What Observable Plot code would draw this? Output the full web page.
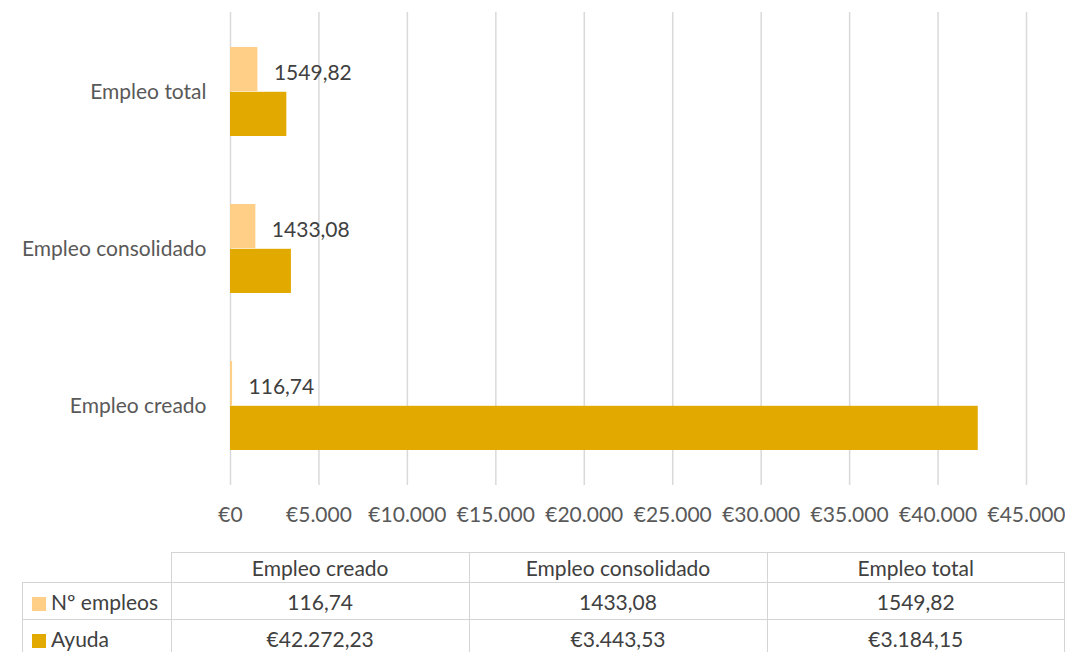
<!DOCTYPE html>
<html><head><meta charset="utf-8">
<script src="https://cdn.jsdelivr.net/npm/d3@7"></script>
<script src="https://cdn.jsdelivr.net/npm/@observablehq/plot@0.6"></script>
<style>
body{margin:0;background:#fff;font-family:Lato,"Noto Sans",sans-serif;}
#chart svg{display:block;}
table{border-collapse:collapse;margin-top:7px;margin-left:22px;font-size:21px;color:#404040;table-layout:fixed;}
td{border:1px solid #d4d4d4;text-align:center;padding:0;white-space:nowrap;}
td.lab{text-align:left;padding-left:9px;}
td.blank{border-top:none;border-left:none;}
tr.h td{height:29px;}
tr.r td{height:36px;}
.sw{display:inline-block;width:14px;height:14px;margin-right:5px;vertical-align:-1px;}
</style></head><body><div id="chart"></div><div id="tbl"></div><script>
const categories = ["Empleo creado", "Empleo consolidado", "Empleo total"];
const empleos = [116.74, 1433.08, 1549.82];
const ayuda = [42272.23, 3443.53, 3184.15];
const seriesNames = ["Nº empleos", "Ayuda"];
const seriesColors = ["#FFCF87", "#E2A900"];
const xTicks = [0, 5000, 10000, 15000, 20000, 25000, 30000, 35000, 40000, 45000];

const locale = d3.formatLocale({decimal: ",", thousands: ".", grouping: [3], currency: ["€", ""]});
const fmtAxis = locale.format("$,.0f");
const fmtMoney = locale.format("$,.2f");
const fmtNum = locale.format(".2f");

const rows = categories.map((c, i) => ({cat: c, empleos: empleos[i], ayuda: ayuda[i]}));

const plot = Plot.plot({
  width: 1065, height: 545,
  marginLeft: 230, marginRight: 39, marginTop: 12, marginBottom: 60,
  style: {fontFamily: "Lato, 'Noto Sans', sans-serif", fontSize: "21px", color: "#595959", background: "#fff"},
  x: {domain: [0, 45000], ticks: xTicks, tickFormat: fmtAxis, tickSize: 0, tickPadding: 22, label: null},
  y: {domain: categories.slice().reverse(), paddingInner: 0.43, paddingOuter: 0.22, tickSize: 0, tickPadding: 24, label: null},
  marks: [
    Plot.ruleX(xTicks, {stroke: "#d9d9d9", strokeWidth: 1.5}),
    Plot.barX(rows, {x: "empleos", y: "cat", fill: seriesColors[0], insetBottom: 44.8}),
    Plot.barX(rows, {x: "ayuda", y: "cat", fill: seriesColors[1], insetTop: 44.8}),
    Plot.text(rows, {x: "empleos", y: "cat", text: d => fmtNum(d.empleos), dx: 16, dy: -19, textAnchor: "start", fill: "#404040", fontSize: 21})
  ]
});
document.getElementById("chart").appendChild(plot);

// data table
let html = '<table><colgroup><col style="width:149px">' + categories.map(() => '<col style="width:299px">').join('') + '</colgroup>';
html += '<tr class="h"><td class="blank"></td>' + categories.map(c => `<td>${c}</td>`).join('') + '</tr>';
const vals = [empleos.map(fmtNum), ayuda.map(fmtMoney)];
seriesNames.forEach((s, k) => {
  html += `<tr class="r"><td class="lab"><span class="sw" style="background:${seriesColors[k]}"></span>${s}</td>` + vals[k].map(v => `<td>${v}</td>`).join('') + '</tr>';
});
html += '</table>';
document.getElementById("tbl").innerHTML = html;
</script></body></html>
